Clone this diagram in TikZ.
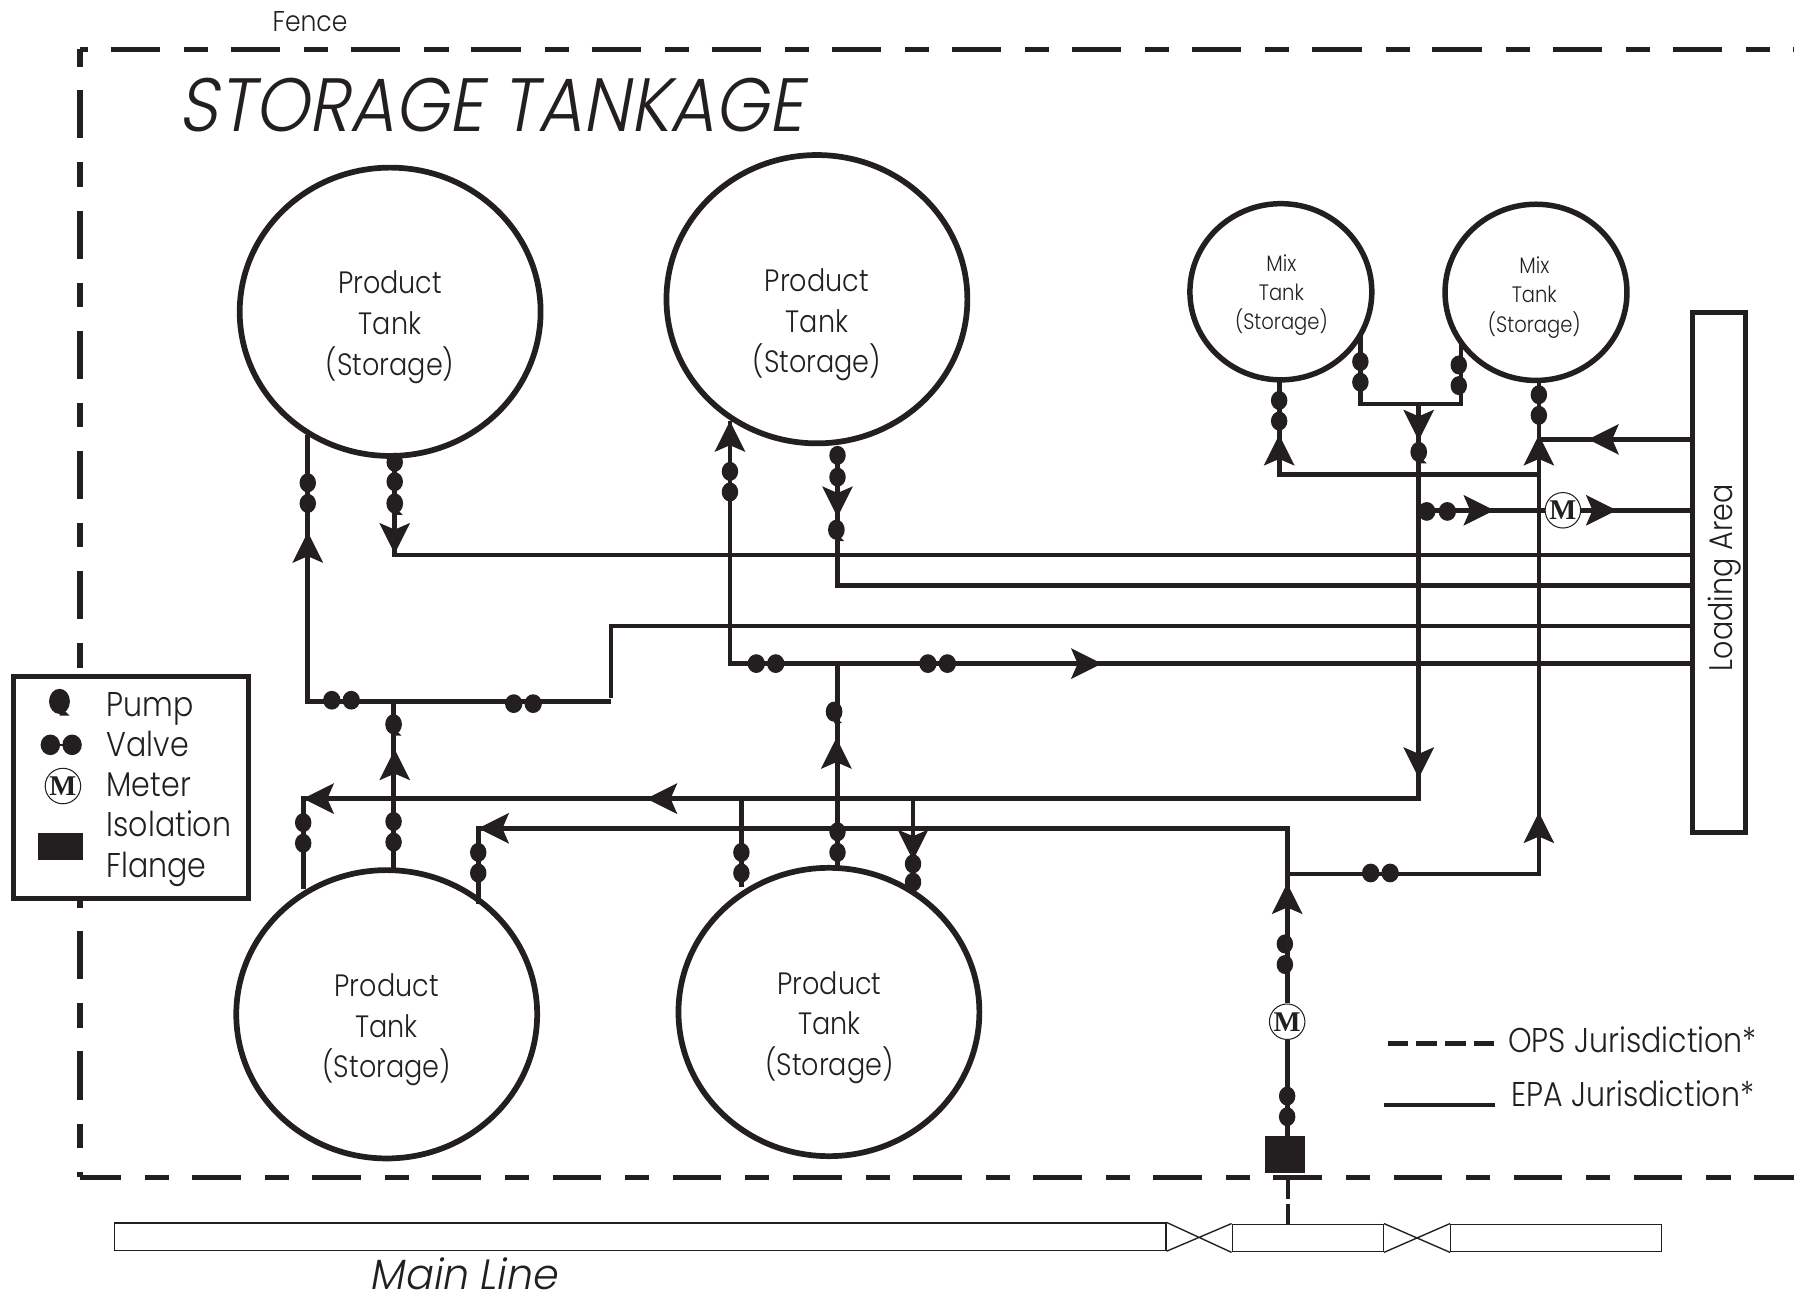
\documentclass[tikz,border=0pt]{standalone}
\usepackage{fontspec}
\usetikzlibrary{shapes.geometric}
\newfontfamily\fut[FakeStretch=0.876]{Poppins Light}
\newfontfamily\futi[FakeStretch=0.915,FakeSlant=0.18]{Poppins Light}
\newfontfamily\futm[FakeStretch=0.97,FakeSlant=0.18]{Poppins Light}
\newfontfamily\mfont{Liberation Serif}
\definecolor{ink}{HTML}{231F20}
\tikzset{
  every node/.style={text=ink},
  pipe/.style={draw=ink,line width=4.1pt},
  fencel/.style={draw=ink,line width=4.6pt},
  tank/.style={ellipse,draw=ink,line width=5pt,inner sep=0pt,minimum width=263pt,minimum height=252pt},
  mixt/.style={ellipse,draw=ink,line width=4.8pt,inner sep=0pt,minimum width=159pt,minimum height=154pt},
  tanktxt/.style={font=\fut\fontsize{27}{35.5}\selectfont,align=center,inner sep=0pt},
  mixtxt/.style={font=\fut\fontsize{19.5}{25.5}\selectfont,align=center,inner sep=0pt},
  legtxt/.style={font=\fut\fontsize{30}{34}\selectfont,anchor=base west,inner sep=0pt},
  meter/.style={circle,draw=ink,line width=0.9pt,fill=white,inner sep=0pt,minimum size=31pt,font=\mfont\bfseries\fontsize{25}{25}\selectfont},
  mainr/.style={rectangle,draw=ink,line width=1.2pt,fill=white,inner sep=0pt,minimum height=24pt},
  vlv/.pic={\fill[ink] (0,0) ellipse[x radius=7.2,y radius=8.3];},
  vlh/.pic={\fill[ink] (0,0) ellipse[x radius=7.6,y radius=8.2];},
  pmp/.pic={\fill[ink] (0,0) ellipse[x radius=7.3,y radius=8.8];
            \fill[ink] (1,4) -- (7,10) -- (0,10) -- cycle;},
  ahd/.pic={\fill[ink] (0,0) -- (-27,-13.5) -- (-22,-2) -- (-22,2) -- (-27,13.5) -- cycle;},
}
\begin{document}
\begin{tikzpicture}[x=1pt,y=-1pt]
\useasboundingbox (0,0) rectangle (1568,1130);
% fence
\coordinate (fa) at (70,43); \coordinate (fb) at (1568,43);
\coordinate (fc) at (70,1029); \coordinate (fd) at (1568,1029);
\draw[fencel,dash pattern=on 21pt off 20pt on 43pt off 21pt,dash phase=14pt] (fa) -- (fb);
\draw[fencel,dash pattern=on 21.5pt off 20.5pt on 42pt off 21pt,dash phase=6pt] (fa) -- (fc);
\draw[fencel,dash pattern=on 42.5pt off 21pt on 21pt off 20.5pt,dash phase=7pt] (fc) -- (fd);
\node[font=\fut\fontsize{25}{26}\selectfont,inner sep=0pt] (fencetxt) at (271,19) {Fence};
\node[font=\futi\fontsize{66}{70}\selectfont,anchor=west,inner sep=0pt] (title) at (156,92) {STORAGE TANKAGE};
% tanks
\node[tank] (t1) at (341,272.5) {}; \node[tanktxt] (t1l) at (341,286) {Product\\Tank\\(Storage)};
\node[tank] (t2) at (714,261.5) {}; \node[tanktxt] (t2l) at (714,284) {Product\\Tank\\(Storage)};
\node[tank] (t3) at (338,886.5) {}; \node[tanktxt] (t3l) at (338,900) {Product\\Tank\\(Storage)};
\node[tank] (t4) at (724.5,884.5) {}; \node[tanktxt] (t4l) at (725,898) {Product\\Tank\\(Storage)};
\node[mixt] (m1) at (1119.5,255) {}; \node[mixtxt] (m1l) at (1120,258) {Mix\\Tank\\(Storage)};
\node[mixt] (m2) at (1342.5,255.5) {}; \node[mixtxt] (m2l) at (1341,260) {Mix\\Tank\\(Storage)};
% loading area
\node[rectangle,draw=ink,line width=4.4pt,inner sep=0pt,minimum width=46pt,minimum height=454pt] (la) at (1502.5,500.5) {};
\node[font=\fut\fontsize{28.5}{30}\selectfont,rotate=90,inner sep=0pt] (lat) at (1507,505) {Loading Area};
% meters and flange
\node[meter] (mm1) at (1366,446) {M};
\node[meter] (mm2) at (1125,893) {M};
\node[rectangle,fill=ink,inner sep=0pt,minimum width=35pt,minimum height=32pt] (fl) at (1123.5,1009) {};
% main line
\node[mainr,minimum width=919pt] (ml1) at (559.5,1081) {};
\node[mainr,minimum width=132pt] (ml2) at (1143,1082) {};
\node[mainr,minimum width=184pt] (ml3) at (1360,1082) {};
\draw[ink,line width=1.2pt] (ml1.north east) -- (ml2.south west) (ml1.south east) -- (ml2.north west);
\draw[ink,line width=1.2pt] (ml2.north east) -- (ml3.south west) (ml2.south east) -- (ml3.north west);
\coordinate (dtop) at (1126,1030); \coordinate (dbot) at (1126,1070);
\draw[draw=ink,line width=3.6pt,dash pattern=on 18pt off 4pt] (dtop) -- (dbot);
\node[font=\futm\fontsize{37}{40}\selectfont,inner sep=0pt] (mainl) at (405,1113) {Main Line};
% junction coordinates
\coordinate (a1) at (269,380); \coordinate (a2) at (269,613); \coordinate (a3) at (534,613);
\coordinate (a4) at (534,547); \coordinate (a5) at (1478,547);
\coordinate (b1) at (345,398); \coordinate (b2) at (345,485); \coordinate (b3) at (1478,485);
\coordinate (c1) at (638,368); \coordinate (c2) at (638,580); \coordinate (c3) at (1478,580);
\coordinate (d1) at (732,392); \coordinate (d2) at (732,512); \coordinate (d3) at (1478,512);
\coordinate (e1) at (344,760); \coordinate (e2) at (344,613);
\coordinate (f1) at (732,758); \coordinate (f2) at (732,580);
\coordinate (g1) at (265,777); \coordinate (g2) at (265,698); \coordinate (g3) at (1240,698); \coordinate (g4) at (1240,353);
\coordinate (h1) at (418,790); \coordinate (h2) at (418,724); \coordinate (h3) at (1125,724); \coordinate (h4) at (1125,993);
\coordinate (i1) at (648,775); \coordinate (i2) at (648,698);
\coordinate (k1) at (798,775); \coordinate (k2) at (798,698);
\coordinate (n1) at (1125,764); \coordinate (n2) at (1345,764); \coordinate (n3) at (1345,333);
\coordinate (o1) at (1118,332); \coordinate (o2) at (1118,415); \coordinate (o3) at (1345,415);
\coordinate (p1) at (1189,292); \coordinate (p2) at (1189,353); \coordinate (p3) at (1277,353); \coordinate (p4) at (1277,298);
\coordinate (q1) at (1478,384); \coordinate (q2) at (1345,384);
\coordinate (r1) at (1240,446); \coordinate (r2) at (1478,446);
% pipes
\path[pipe,line join=miter]
  (a1) -- (a2) -- (a3) (a3 |- 0,610) -- (a4) -- (a5)
  (b1) -- (b2) -- (b3)
  (c1) -- (c2) -- (c3)
  (d1) -- (d2) -- (d3)
  (e1) -- (e2)
  (f1) -- (f2)
  (g1) -- (g2) -- (g3) -- (g4)
  (h1) -- (h2) -- (h3) -- (mm2.north) (mm2.south) -- (fl.north -| mm2.south)
  (i1) -- (i2)
  (k1) -- (k2)
  (n1) -- (n2) -- (n3)
  (o1) -- (o2) -- (o3)
  (p1) -- (p2) -- (p3) -- (p4)
  (q1) -- (q2)
  (r1) -- (mm1.west) (mm1.east) -- (r2);
% flow arrows
\foreach \x/\y/\r in {269/465/90,345/484/270,638/368/90,732/452/270,963/580/0,345/655/90,731/645/90,
  265/698/180,565/698/180,1240/680/270,1240/385/270,418/724/180,798/752/270,1345/710/90,1345/380/90,
  1125/772/90,1118/380/90,1388/384/180,1306/446/0,1413/446/0}
  \pic[rotate=\r] at (\x,\y) {ahd};
% valves on vertical runs
\foreach \x/\y in {269/422,269/440,345/404,345/421,638/412,638/430,732/398,732/417,344/718,344/736,732/727,732/745,
  265/719,265/737,418/745,418/763,648/745,648/763,798/755,798/771,1123/825,1123/843,1125/958,1125/976,
  1118/350,1118/368,1189/316,1189/334,1275/319,1275/337,1345/345,1345/363}
  \pic at (\x,\y) {vlv};
% valves on horizontal runs
\foreach \x/\y in {290/612,307/612,449/615,466/615,661/580,678/580,811/580,828/580,1198/763,1215/763,1247/447,1265/447}
  \pic at (\x,\y) {vlh};
% pumps
\foreach \x/\y in {345/440,731/463,344/633,729/622,1240/395}
  \pic at (\x,\y) {pmp};
% legend
\node[rectangle,draw=ink,fill=white,line width=4.6pt,inner sep=0pt,minimum width=205pt,minimum height=194pt] (leg) at (114.5,688) {};
\pic[scale=1.25] at (52,613) {pmp};
\fill[ink] (44,651) ellipse[x radius=8.5,y radius=9] (63,651) ellipse[x radius=8.5,y radius=9];
\node[rectangle,fill=ink,inner sep=0pt,minimum width=39pt,minimum height=24pt] (lfl) at (53,740) {};
\node[meter] (lm) at (55,687) {M};
\coordinate (lv1) at (44,651); \coordinate (lv2) at (63,651);
\draw[ink,line width=1.2pt] (lv1) -- (lv2);
\node[legtxt] (l1) at (93,626) {Pump};
\node[legtxt] (l2) at (93,661) {Valve};
\node[legtxt] (l3) at (93,696) {Meter};
\node[legtxt] (l4) at (93,731) {Isolation};
\node[legtxt] (l5) at (93,767) {Flange};
% jurisdiction key
\coordinate (ka) at (1213,912); \coordinate (kb) at (1308,912);
\coordinate (kc) at (1210,966); \coordinate (kd) at (1307,966);
\draw[draw=ink,line width=3.8pt,dash pattern=on 18pt off 7pt] (ka) -- (kb);
\draw[draw=ink,line width=3.8pt] (kc) -- (kd);
\node[legtxt] (k1t) at (1318,920) {OPS Jurisdiction*};
\node[legtxt] (k2t) at (1321,967) {EPA Jurisdiction*};
\end{tikzpicture}
\end{document}
